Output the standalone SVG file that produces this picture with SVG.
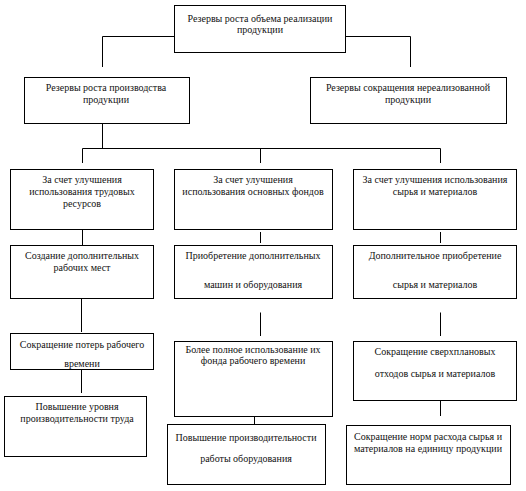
<svg xmlns="http://www.w3.org/2000/svg" width="526" height="491" viewBox="0 0 526 491">
<style>
.b{fill:#fff;stroke:#000;stroke-width:1}
.c{fill:none;stroke:#000;stroke-width:1}
text{fill:#111;text-anchor:middle}
</style>
<rect width="526" height="491" fill="#fff"/>
<g id="connectors">
<path class="c" d="M174.5 36.5H102.5V67"/>
<path class="c" d="M345.5 36.5H410.5V67"/>
<path class="c" d="M102.5 123.5V148.5"/>
<path class="c" d="M82.5 148.5H440.5"/>
<path class="c" d="M82.5 148.5V163"/>
<path class="c" d="M260.5 148.5V163"/>
<path class="c" d="M440.5 148.5V163"/>
<path class="c" d="M82.5 229.5V245"/>
<path class="c" d="M260.5 232V243"/>
<path class="c" d="M440.5 232V243"/>
<path class="c" d="M81.5 298.5V332"/>
<path class="c" d="M260.5 312.5V336"/>
<path class="c" d="M440.5 312.5V336"/>
<path class="c" d="M81.5 369.5V393"/>
<path class="c" d="M254.5 416.5V424"/>
<path class="c" d="M440.5 400.5V416"/>
</g>
<g id="nodes" font-family="Liberation Serif, Times New Roman, serif" font-size="10">
<g id="n_top"><rect class="b" x="174.5" y="5.5" width="171" height="47"/>
<text x="260" y="22">Резервы роста объема реализации</text><text x="260" y="33">продукции</text></g>
<g id="n_prod"><rect class="b" x="24.5" y="77.5" width="165" height="46"/>
<text x="106" y="91">Резервы роста производства</text><text x="106" y="103">продукции</text></g>
<g id="n_unreal"><rect class="b" x="310.5" y="77.5" width="196" height="46"/>
<text x="408" y="91">Резервы сокращения нереализованной</text><text x="408" y="103">продукции</text></g>
<g id="n_labor"><rect class="b" x="10.5" y="169.5" width="143" height="60"/>
<text x="82" y="183">За счет улучшения</text><text x="82" y="195">использования трудовых</text><text x="82" y="207">ресурсов</text></g>
<g id="n_funds"><rect class="b" x="174.5" y="169.5" width="158" height="60"/>
<text x="253" y="183">За счет улучшения</text><text x="253" y="195">использования основных фондов</text></g>
<g id="n_mat"><rect class="b" x="353.5" y="169.5" width="163" height="60"/>
<text x="435" y="183">За счет улучшения использования</text><text x="435" y="195">сырья и материалов</text></g>
<g id="n_jobs"><rect class="b" x="10.5" y="245.5" width="143" height="53"/>
<text x="82" y="259">Создание дополнительных</text><text x="82" y="271">рабочих мест</text></g>
<g id="n_mach"><rect class="b" x="174.5" y="245.5" width="158" height="53"/>
<text x="253" y="259">Приобретение  дополнительных</text><text x="253" y="288">машин и оборудования</text></g>
<g id="n_buymat"><rect class="b" x="353.5" y="245.5" width="163" height="53"/>
<text x="435" y="259">Дополнительное приобретение</text><text x="435" y="288">сырья и материалов</text></g>
<g id="n_loss"><rect class="b" x="10.5" y="333.5" width="143" height="36"/>
<text x="82" y="348">Сокращение потерь рабочего</text><text x="82" y="367">времени</text></g>
<g id="n_prodlab"><rect class="b" x="4.5" y="396.5" width="142" height="60"/>
<text x="77" y="410">Повышение уровня</text><text x="77" y="422">производительности  труда</text></g>
<g id="n_fund"><rect class="b" x="174.5" y="341.5" width="158" height="75"/>
<text x="253" y="353">Более полное использование их</text><text x="253" y="364">фонда рабочего времени</text></g>
<g id="n_equip"><rect class="b" x="167.5" y="424.5" width="158" height="60"/>
<text x="246" y="441">Повышение производительности</text><text x="246" y="462">работы оборудования</text></g>
<g id="n_waste"><rect class="b" x="353.5" y="341.5" width="163" height="59"/>
<text x="435" y="355">Сокращение сверхплановых</text><text x="435" y="377">отходов сырья и материалов</text></g>
<g id="n_norm"><rect class="b" x="346.5" y="425.5" width="164" height="59"/>
<text x="428" y="440">Сокращение норм расхода сырья и</text><text x="428" y="452">материалов  на единицу  продукции</text></g>
</g>
</svg>
